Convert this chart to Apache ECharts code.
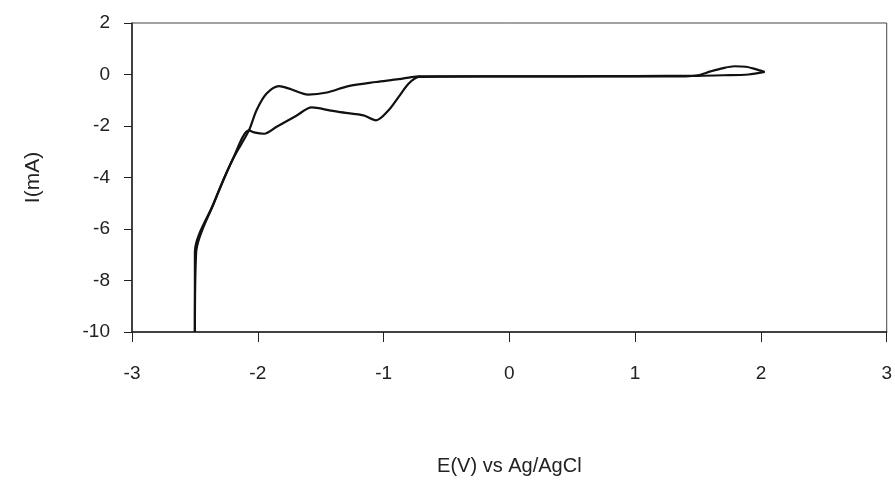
<!DOCTYPE html>
<html>
<head>
<meta charset="utf-8">
<script src="https://cdn.jsdelivr.net/npm/echarts@6/dist/echarts.min.js"></script>
<style>
  html, body { margin: 0; padding: 0; background: #fff; }
  #chart { width: 895px; height: 501px; }
</style>
</head>
<body>
<div id="chart"></div>
<script>
// cathodic sweep: from +2 V down to -2.5 V
const cathodicE = [2.03, 1.9, 1.7, 1.5, 1.0, 0.5, 0, -0.5, -0.72, -0.80, -0.88, -0.96, -1.06, -1.15, -1.20, -1.30, -1.42, -1.57, -1.70, -1.85, -1.95, -2.03, -2.07, -2.2, -2.35, -2.49, -2.5]
const cathodicI = [0.10, 0.0, -0.03, -0.05, -0.06, -0.07, -0.07, -0.08, -0.09, -0.35, -0.87, -1.39, -1.78, -1.60, -1.55, -1.49, -1.40, -1.28, -1.62, -2.03, -2.30, -2.25, -2.17, -3.3, -5.0, -6.9, -10]

// anodic sweep: back from -2.5 V up to +2 V
const anodicE = [-2.5, -2.5, -2.35, -2.2, -2.07, -2.01, -1.93, -1.83, -1.75, -1.6, -1.45, -1.28, -1.06, -0.88, -0.78, -0.72, -0.5, 0, 0.5, 1.0, 1.4, 1.5, 1.6, 1.7, 1.79, 1.88, 1.95, 2.03]
const anodicI = [-10, -6.9, -5.0, -3.3, -2.17, -1.39, -0.74, -0.45, -0.55, -0.78, -0.70, -0.45, -0.29, -0.18, -0.10, -0.07, -0.07, -0.07, -0.07, -0.07, -0.07, -0.03, 0.12, 0.25, 0.32, 0.30, 0.22, 0.10]

const xTicks = [-3, -2, -1, 0, 1, 2, 3]
const yTicks = [-10, -8, -6, -4, -2, 0, 2]

const pairs = (xs, ys) => xs.map((x, i) => [x, ys[i]])

const chart = echarts.init(document.getElementById('chart'))
const font = 'Liberation Sans, Arial, sans-serif'

const option = {
  backgroundColor: '#fff',
  animation: false,
  grid: {
    left: 132,
    right: 3,
    top: 23,
    bottom: 169,
    show: true,
    borderColor: '#444',
    borderWidth: 1
  },
  xAxis: {
    type: 'value',
    min: xTicks[0],
    max: xTicks[xTicks.length - 1],
    interval: 1,
    position: 'bottom',
    name: 'E(V) vs Ag/AgCl',
    nameLocation: 'middle',
    nameGap: 124,
    nameTextStyle: { fontFamily: font, fontSize: 20, color: '#222' },
    axisLine: { onZero: false, lineStyle: { color: '#222', width: 1.5 } },
    axisTick: { inside: false, length: 10, lineStyle: { color: '#222' } },
    axisLabel: { margin: 32, fontFamily: font, fontSize: 19, color: '#222' },
    splitLine: { show: false }
  },
  yAxis: {
    type: 'value',
    min: yTicks[0],
    max: yTicks[yTicks.length - 1],
    interval: 2,
    name: 'I(mA)',
    nameLocation: 'middle',
    nameGap: 88,
    nameTextStyle: { fontFamily: font, fontSize: 21, color: '#222' },
    axisLine: { onZero: false, lineStyle: { color: '#222', width: 1.5 } },
    axisTick: { inside: false, length: 8, lineStyle: { color: '#222' } },
    axisLabel: { margin: 22, fontFamily: font, fontSize: 19, color: '#222' },
    splitLine: { show: false }
  },
  series: [
    {
      name: 'cathodic',
      type: 'line',
      showSymbol: false,
      smooth: 0.3,
      lineStyle: { color: '#111', width: 2.2 },
      data: pairs(cathodicE, cathodicI)
    },
    {
      name: 'anodic',
      type: 'line',
      showSymbol: false,
      smooth: 0.3,
      lineStyle: { color: '#111', width: 2.2 },
      data: pairs(anodicE, anodicI)
    }
  ]
}

chart.setOption(option)
</script>
</body>
</html>
